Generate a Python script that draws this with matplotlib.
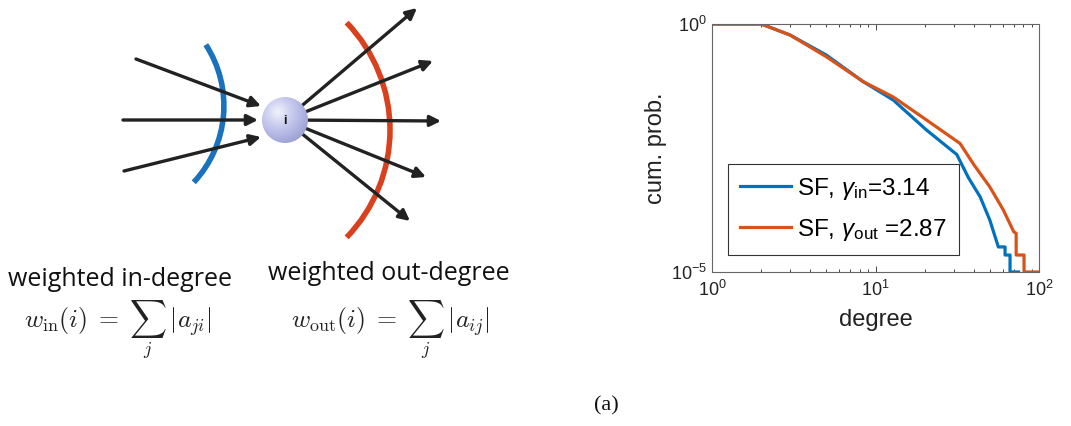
import numpy as np
import matplotlib
matplotlib.use("Agg")
import matplotlib.pyplot as plt
from matplotlib.patches import Arc, Circle

plt.rcParams['font.family'] = ['Liberation Sans', 'DejaVu Sans']
plt.rcParams['mathtext.fontset'] = 'custom'
plt.rcParams['mathtext.rm'] = 'Liberation Sans'
plt.rcParams['mathtext.it'] = 'Liberation Sans:italic'

# cumulative degree distributions (in / out)
deg_in = [1, 2, 3.0, 5.0, 8.4, 12.8, 20.6, 31.4, 37, 43.6, 50, 56.4,
          62, 62, 66.5, 66.5, 75]
cum_in = [1, 1, 0.60, 0.237, 0.069, 0.0295, 0.0072, 0.00234, 8e-4, 3.3e-4,
          1.12e-4, 3.2e-5, 3.2e-5, 2.2e-5, 2.2e-5, 1e-5, 1e-5]
deg_out = [1, 2, 3.0, 5.0, 8.4, 12.8, 20.6, 32.9, 40, 50, 60.5, 70,
           72.5, 72.5, 81, 81, 100]
cum_out = [1, 1, 0.60, 0.219, 0.069, 0.034, 0.0115, 0.0039, 0.00145, 5.2e-4,
           1.78e-4, 6.5e-5, 6e-5, 2.2e-5, 2.2e-5, 1e-5, 1e-5]
labels = [r'SF, $\gamma_{\mathrm{in}}$=3.14', r'SF, $\gamma_{\mathrm{out}}$ =2.87']

W, H = 1071, 426
fig = plt.figure(figsize=(W / 100, H / 100), dpi=100)

# ---- node sketch, drawn in pixel coordinates ----
ax0 = fig.add_axes([0, 0, 1, 1])
ax0.set_xlim(0, W)
ax0.set_ylim(H, 0)
ax0.axis('off')

node = (285, 120)
r_node = 23
arr = dict(arrowstyle='-|>', color='#222222', lw=2.4, mutation_scale=16,
           shrinkA=0, shrinkB=0)
for start, end in [((136, 59), (261, 106)), ((123, 120), (258, 120)),
                   ((124, 171), (261, 137))]:
    ax0.annotate('', xy=end, xytext=start, arrowprops=arr)
for end in [(417, 8), (433, 61), (441, 121), (426, 177), (410, 221)]:
    ang = np.arctan2(end[1] - node[1], end[0] - node[0])
    start = (node[0] + r_node * np.cos(ang), node[1] + r_node * np.sin(ang))
    ax0.annotate('', xy=end, xytext=start, arrowprops=arr)

ax0.add_patch(Arc((111.7, 105.8), 2 * 112.2, 2 * 112.2, theta1=-33, theta2=43,
                  color='#1a72bd', lw=4))
ax0.add_patch(Arc((235.4, 130), 2 * 154.6, 2 * 154.6, theta1=-44, theta2=44,
                  color='#d9411e', lw=4))

# shaded sphere
gx, gy = np.meshgrid(np.linspace(-1, 1, 200), np.linspace(-1, 1, 200))
shade = np.sqrt((gx + 0.3) ** 2 + (gy + 0.35) ** 2)
cmap = matplotlib.colors.LinearSegmentedColormap.from_list(
    'sph', ['#f2f3fc', '#cdd0f0', '#b0b4e2', '#959ace'])
im = ax0.imshow(shade, cmap=cmap, vmin=0, vmax=1.6, zorder=3,
                extent=(node[0] - r_node, node[0] + r_node,
                        node[1] + r_node, node[1] - r_node))
clip = Circle(node, r_node, transform=ax0.transData)
im.set_clip_path(clip)
ax0.text(node[0], node[1] + 1, 'i', ha='center', va='center', fontsize=9,
         fontweight='bold', color='#111111', zorder=4)

ax0.text(120, 279, 'weighted in-degree', ha='center', va='center',
         fontsize=18, family='Open Sans', color='#111111')
ax0.text(389, 273, 'weighted out-degree', ha='center', va='center',
         fontsize=18, family='Open Sans', color='#111111')
ax0.text(118, 330, r'$w_{\mathrm{in}}(i)\;=\;\sum_j\;|a_{ji}|$', ha='center',
         va='center', fontsize=18.5, math_fontfamily='cm', color='#222222')
ax0.text(390, 330, r'$w_{\mathrm{out}}(i)\;=\;\sum_j\;|a_{ij}|$', ha='center',
         va='center', fontsize=18.5, math_fontfamily='cm', color='#222222')
ax0.text(606, 406, '(a)', ha='center', va='center', fontsize=16,
         family='Liberation Serif', color='#111111')

# ---- cumulative degree distribution ----
ax = fig.add_axes([712 / W, (H - 272) / H, (1039 - 712) / W, (272 - 24) / H])
ax.loglog(deg_in, cum_in, color='#0072BD', lw=2.3, label=labels[0])
ax.loglog(deg_out, cum_out, color='#D95319', lw=2.3, label=labels[1])
ax.set_xlim(1, 100)
ax.set_ylim(1e-5, 1)
ax.set_xticks([1, 10, 100])
ax.set_yticks([1e-5, 1])
ax.set_xticklabels([r'$10^0$', r'$10^1$', r'$10^2$'])
ax.set_yticklabels([r'$10^{-5}$', r'$10^0$'])
ax.yaxis.set_minor_locator(matplotlib.ticker.NullLocator())
ax.tick_params(which='both', direction='in', colors='#444444', labelcolor='#222222',
               labelsize=13, top=True, right=True)
ax.tick_params(which='major', length=4, width=0.7)
ax.tick_params(axis='x', which='major', pad=6)
ax.tick_params(which='minor', length=2.5, width=0.7)
for s in ax.spines.values():
    s.set_color('#666666')
    s.set_linewidth(0.8)
ax.set_xlabel('degree', fontsize=17, color='#222222', labelpad=6)
ax.set_ylabel('cum. prob.', fontsize=17, color='#222222', labelpad=3)
leg = ax.legend(loc='lower left', bbox_to_anchor=(0.049, 0.069), borderaxespad=0,
                fontsize=17.5, fancybox=False, framealpha=1, edgecolor='#333333',
                handlelength=2.1, handletextpad=0.25, borderpad=0.5,
                labelspacing=0.62)
leg.get_frame().set_linewidth(0.8)

fig.savefig('out.png', dpi=100)
